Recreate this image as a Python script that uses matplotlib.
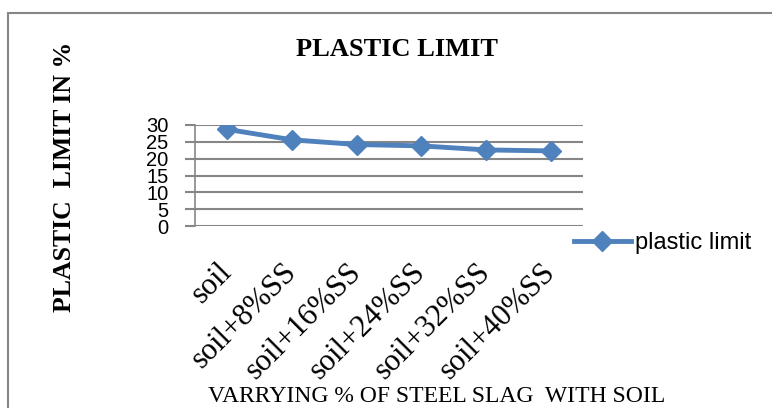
import matplotlib
matplotlib.use('Agg')
import matplotlib.pyplot as plt
import matplotlib.patches as patches

# Data
categories = ['soil', 'soil+8%SS', 'soil+16%SS', 'soil+24%SS', 'soil+32%SS', 'soil+40%SS']
plastic_limit = [28.7, 25.6, 24.2, 23.8, 22.6, 22.3]
y_ticks = [0, 5, 10, 15, 20, 25, 30]

W, H = 772, 408
blue = '#4F81BD'
grid_grey = '#868686'

fig = plt.figure(figsize=(W / 100, H / 100), dpi=100)
ax = fig.add_axes([195 / W, 1 - 226 / H, 388 / W, 101 / H])

x = list(range(len(categories)))
ax.plot(x, plastic_limit, color=blue, linewidth=3.5, marker='D', markersize=10,
        label='plastic limit', zorder=3)

ax.set_xlim(-0.5, len(categories) - 0.5)
ax.set_ylim(0, 30)
ax.set_yticks(y_ticks)
ax.set_yticklabels([str(v) for v in y_ticks], fontsize=14.5, family='Liberation Sans')
ax.set_xticks(x)
ax.set_xticklabels(categories, fontsize=22, family='Liberation Serif', rotation=45,
                   ha='right', va='center', rotation_mode='anchor')

ax.yaxis.grid(True, color=grid_grey, linewidth=1.5)
ax.set_axisbelow(True)
for s in ['top', 'right', 'bottom']:
    ax.spines[s].set_visible(False)
ax.spines['left'].set_color(grid_grey)
ax.spines['left'].set_linewidth(1.2)
ax.tick_params(axis='y', length=7, width=1.5, color=grid_grey, pad=12)
ax.tick_params(axis='x', length=0, pad=30)

# Title and axis titles
fig.text(397 / W, 1 - 49 / H, 'PLASTIC LIMIT', fontsize=19, fontweight='bold',
         family='Liberation Serif', ha='center', va='center')
fig.text(65 / W, 1 - 177 / H, 'PLASTIC  LIMIT IN %', fontsize=18.5, fontweight='bold',
         family='Liberation Serif', ha='center', va='center', rotation=90)
fig.text(437 / W, 1 - 402 / H, 'VARRYING % OF STEEL SLAG  WITH SOIL', fontsize=17,
         family='Liberation Serif', ha='center', va='baseline')

# Legend
fig.legend(loc='center left', bbox_to_anchor=(574 / W, 1 - 243 / H), frameon=False,
           prop={'family': 'Liberation Sans', 'size': 17}, handlelength=2.4,
           handletextpad=0.2, borderpad=0, borderaxespad=0)

# Outer chart border (runs off the right and bottom of the picture)
fig.patches.append(patches.Rectangle((8 / W, -0.2), 1.0, 1.2 - 13 / H,
                                     transform=fig.transFigure, fill=False,
                                     edgecolor=grid_grey, linewidth=1.5))

fig.savefig('out.png', dpi=100)
